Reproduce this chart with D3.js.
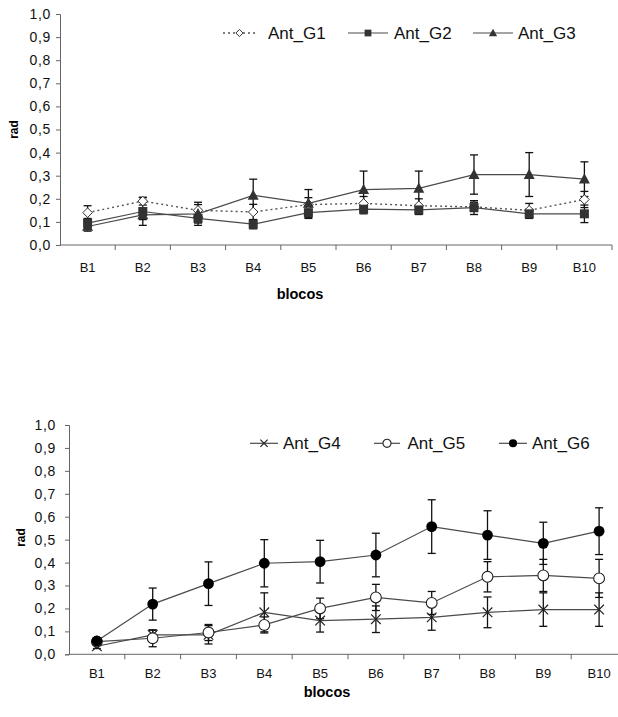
<!DOCTYPE html>
<html><head><meta charset="utf-8">
<script src="https://cdn.jsdelivr.net/npm/d3@7"></script>
<style>body{margin:0;background:#fff}svg{display:block;font-family:"Liberation Sans",Arial,sans-serif}</style>
</head><body>
<svg id="c" width="618" height="717"></svg>
<script>
const categories = ["B1","B2","B3","B4","B5","B6","B7","B8","B9","B10"];
const yTicks = [0,0.1,0.2,0.3,0.4,0.5,0.6,0.7,0.8,0.9,1.0];

const g1 = [0.14, 0.19, 0.15, 0.143, 0.175, 0.18, 0.17, 0.165, 0.15, 0.197];
const g1Err = [0.03, 0.017, 0.035, 0.033, 0.03, 0.03, 0.03, 0.02, 0.03, 0.035];
const g2 = [0.095, 0.145, 0.115, 0.09, 0.14, 0.155, 0.152, 0.162, 0.135, 0.135];
const g2Err = [0.02, 0.06, 0.03, 0.02, 0.025, 0.02, 0.02, 0.03, 0.02, 0.038];
const g3 = [0.08, 0.13, 0.135, 0.215, 0.18, 0.24, 0.245, 0.305, 0.305, 0.285];
const g3Err = [0.02, 0.02, 0.04, 0.07, 0.06, 0.08, 0.075, 0.085, 0.095, 0.075];

const g4 = [0.035, 0.085, 0.085, 0.183, 0.147, 0.153, 0.161, 0.183, 0.195, 0.195];
const g4Err = [0.01, 0.02, 0.04, 0.085, 0.05, 0.058, 0.056, 0.067, 0.073, 0.073];
const g5 = [0.055, 0.07, 0.095, 0.128, 0.2, 0.248, 0.224, 0.338, 0.344, 0.331];
const g5Err = [0.01, 0.037, 0.035, 0.035, 0.045, 0.057, 0.05, 0.066, 0.07, 0.083];
const g6 = [0.058, 0.219, 0.308, 0.397, 0.404, 0.433, 0.557, 0.52, 0.484, 0.537];
const g6Err = [0.01, 0.07, 0.095, 0.103, 0.093, 0.095, 0.117, 0.106, 0.092, 0.102];

const svg = d3.select("#c");
const lineColor = "#4a4a4a";

function drawMarker(g, type, x, y, s){
  s = s||1;
  const m = g.append("g").attr("transform",`translate(${x},${y})`);
  if(type==="diamond"){
    const r=4.8*s;
    m.append("path").attr("d",`M0,${-r}L${r},0L0,${r}L${-r},0Z`).attr("fill","#fff").attr("stroke","#333").attr("stroke-width",1);
  } else if(type==="square"){
    const r=4.5*s;
    m.append("rect").attr("x",-r).attr("y",-r).attr("width",2*r).attr("height",2*r).attr("fill","#333");
  } else if(type==="triangle"){
    const r=5.8*s;
    m.append("path").attr("d",`M0,${-r}L${r*0.95},${r*0.75}L${-r*0.95},${r*0.75}Z`).attr("fill","#333");
  } else if(type==="x"){
    const r=4.8*s;
    m.append("path").attr("d",`M${-r},${-r}L${r},${r}M${r},${-r}L${-r},${r}`).attr("stroke","#222").attr("stroke-width",1.2).attr("fill","none");
  } else if(type==="open"){
    m.append("circle").attr("r",5.4*s).attr("fill","#fff").attr("stroke","#222").attr("stroke-width",1.1);
  } else if(type==="filled"){
    m.append("circle").attr("r",5.4*s).attr("fill","#000");
  }
}

function panel(cfg){
  const x = d3.scaleBand().domain(categories).range([cfg.x0, cfg.x1]);
  const y = d3.scaleLinear().domain([0,1]).range([cfg.y0, cfg.y1]);
  const g = svg.append("g");

  const ya = d3.axisLeft(y).tickValues(yTicks).tickSize(4).tickFormat(d=>d3.format(".1f")(d).replace(".",","));
  const yg = g.append("g").attr("transform",`translate(${cfg.x0},0)`).call(ya);
  yg.select(".domain").attr("stroke","#666");
  yg.selectAll(".tick line").attr("stroke","#666");
  yg.selectAll(".tick text").attr("x",-cfg.yLabGap).attr("font-size",14).attr("fill","#111")
    .attr("font-family","'Liberation Sans',Arial,sans-serif").style("letter-spacing","0.7px");

  const xg = g.append("g").attr("transform",`translate(0,${cfg.y0})`);
  xg.append("line").attr("x1",cfg.x0).attr("x2",cfg.x1).attr("stroke","#666");
  const bounds = categories.map(c=>x(c)+x.bandwidth());
  xg.selectAll("line.t").data(bounds).join("line").attr("class","t")
    .attr("x1",d=>d).attr("x2",d=>d).attr("y1",0).attr("y2",5).attr("stroke","#666");
  xg.selectAll("text").data(categories).join("text")
    .attr("x",d=>x(d)+x.bandwidth()/2).attr("y",cfg.xLabOff).attr("text-anchor","middle")
    .attr("font-size",13).attr("fill","#111").text(d=>d);

  g.append("text").attr("transform",`translate(${cfg.radX},${cfg.radY}) rotate(-90)`)
    .attr("text-anchor","middle").attr("font-weight","bold").attr("font-size",12).text("rad");
  g.append("text").attr("x",cfg.blX).attr("y",cfg.blY).attr("text-anchor","middle")
    .attr("font-weight","bold").attr("font-size",14.5).text("blocos");

  const cx = c=>x(c)+x.bandwidth()/2;
  cfg.series.forEach(s=>{
    s.values.forEach((v,i)=>{
      const px = cx(categories[i]);
      const e = s.err[i];
      g.append("line").attr("x1",px).attr("x2",px).attr("y1",y(v-e)).attr("y2",y(v+e)).attr("stroke","#111").attr("stroke-width",1.3);
      [v-e,v+e].forEach(t=>{
        g.append("line").attr("x1",px-4).attr("x2",px+4).attr("y1",y(t)).attr("y2",y(t)).attr("stroke","#111").attr("stroke-width",1.3);
      });
    });
  });
  cfg.series.forEach(s=>{
    const line = d3.line().x((d,i)=>cx(categories[i])).y(d=>y(d));
    g.append("path").datum(s.values).attr("d",line).attr("fill","none")
      .attr("stroke",s.dash?"#555":lineColor).attr("stroke-width",s.dash?1.4:1.2)
      .attr("stroke-dasharray",s.dash?"2,3":null);
  });
  cfg.series.forEach(s=>{
    s.values.forEach((v,i)=>drawMarker(g,s.type,cx(categories[i]),y(v)));
  });
  cfg.series.forEach((s,k)=>{
    const L = cfg.legend[k];
    g.append("line").attr("x1",L.l0).attr("x2",L.l1).attr("y1",cfg.legY).attr("y2",cfg.legY)
      .attr("stroke",s.dash?"#555":lineColor).attr("stroke-width",s.dash?1.4:1.2)
      .attr("stroke-dasharray",s.dash?"2,3":null);
    drawMarker(g,s.type,(L.l0+L.l1)/2,cfg.legY,0.75);
    g.append("text").attr("x",L.t).attr("y",cfg.legY+6).attr("font-size",17).attr("fill","#111").text(s.name);
  });
}

panel({
  x0:60, x1:612, y0:245, y1:14, yLabGap:9, xLabOff:27,
  radX:17.5, radY:129.5, blX:300, blY:299,
  legY:33,
  legend:[{l0:223,l1:256,t:268},{l0:348,l1:388,t:394},{l0:473,l1:513,t:518}],
  series:[
    {name:"Ant_G1", values:g1, err:g1Err, type:"diamond", dash:true},
    {name:"Ant_G2", values:g2, err:g2Err, type:"square"},
    {name:"Ant_G3", values:g3, err:g3Err, type:"triangle"}
  ]
});

panel({
  x0:69, x1:627, y0:654.3, y1:425, yLabGap:13, xLabOff:24,
  radX:25, radY:537.5, blX:327, blY:697,
  legY:443.3,
  legend:[{l0:250,l1:278,t:283},{l0:374,l1:400,t:407.5},{l0:499,l1:527,t:532}],
  series:[
    {name:"Ant_G4", values:g4, err:g4Err, type:"x"},
    {name:"Ant_G5", values:g5, err:g5Err, type:"open"},
    {name:"Ant_G6", values:g6, err:g6Err, type:"filled"}
  ]
});
</script>
</body></html>
